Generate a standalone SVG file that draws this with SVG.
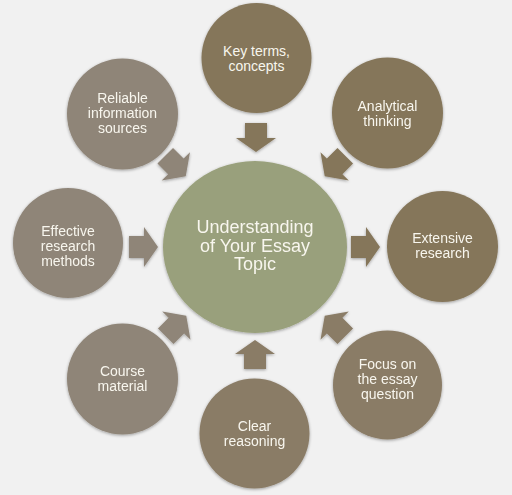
<svg xmlns="http://www.w3.org/2000/svg" width="512" height="495" viewBox="0 0 512 495">
  <defs>
    <style>
      .lbl { font-family: "Liberation Sans", Arial, sans-serif; font-size: 14px; fill: #f8f6ee; text-anchor: middle; }
      .main { font-family: "Liberation Sans", Arial, sans-serif; font-size: 18px; fill: #f8f6ee; text-anchor: middle; }
      .brown { fill: #85765a; }
      .gray { fill: #8f8578; }
      .mid { fill: #8a7c66; }
      .center { fill: #99a07b; }
    </style>
    <filter id="sh" x="-20%" y="-20%" width="140%" height="140%">
      <feDropShadow dx="0" dy="1" stdDeviation="1.6" flood-color="#000" flood-opacity="0.35"/>
    </filter>
    <polygon id="arr" points="-14.5,-11 0.5,-11 0.5,-20 14.5,0 0.5,20 0.5,11 -14.5,11"/>
  </defs>
  <rect width="512" height="495" fill="#f1f1f1"/>

  <g id="connectors" filter="url(#sh)">
    <use href="#arr" class="brown" transform="translate(256,137.5) rotate(90)"/>
    <use href="#arr" class="brown" transform="translate(335,166) rotate(135)"/>
    <use href="#arr" class="brown" transform="translate(365.5,247) rotate(0)"/>
    <use href="#arr" class="mid" transform="translate(335,326) rotate(-135)"/>
    <use href="#arr" class="mid" transform="translate(255,354.5) rotate(-90)"/>
    <use href="#arr" class="gray" transform="translate(176,326) rotate(-45)"/>
    <use href="#arr" class="gray" transform="translate(143.5,247) rotate(0)"/>
    <use href="#arr" class="gray" transform="translate(175.5,166) rotate(45)"/>
  </g>

  <g id="center-node">
    <ellipse cx="255" cy="247" rx="92" ry="86" class="center" filter="url(#sh)"/>
    <text class="main" x="255" y="233">Understanding</text>
    <text class="main" x="255" y="251.7">of Your Essay</text>
    <text class="main" x="255" y="270.4">Topic</text>
  </g>

  <g id="key-terms">
    <circle cx="256.5" cy="58" r="55" class="brown" filter="url(#sh)"/>
    <text class="lbl" x="256.5" y="56">Key terms,</text>
    <text class="lbl" x="256.5" y="71">concepts</text>
  </g>

  <g id="analytical">
    <circle cx="387.5" cy="113" r="55.5" class="brown" filter="url(#sh)"/>
    <text class="lbl" x="387.5" y="111">Analytical</text>
    <text class="lbl" x="387.5" y="126">thinking</text>
  </g>

  <g id="extensive">
    <circle cx="442.5" cy="246.5" r="55.5" class="brown" filter="url(#sh)"/>
    <text class="lbl" x="442.5" y="243">Extensive</text>
    <text class="lbl" x="442.5" y="258">research</text>
  </g>

  <g id="focus">
    <circle cx="387.5" cy="385" r="54.5" class="mid" filter="url(#sh)"/>
    <text class="lbl" x="387.5" y="369">Focus on</text>
    <text class="lbl" x="387.5" y="384">the essay</text>
    <text class="lbl" x="387.5" y="399">question</text>
  </g>

  <g id="clear">
    <circle cx="254.5" cy="433.5" r="55" class="mid" filter="url(#sh)"/>
    <text class="lbl" x="254.5" y="431">Clear</text>
    <text class="lbl" x="254.5" y="446">reasoning</text>
  </g>

  <g id="course">
    <circle cx="122.5" cy="379" r="55.5" class="gray" filter="url(#sh)"/>
    <text class="lbl" x="122.5" y="376">Course</text>
    <text class="lbl" x="122.5" y="391">material</text>
  </g>

  <g id="effective">
    <circle cx="68" cy="243" r="55" class="gray" filter="url(#sh)"/>
    <text class="lbl" x="68" y="236">Effective</text>
    <text class="lbl" x="68" y="251">research</text>
    <text class="lbl" x="68" y="266">methods</text>
  </g>

  <g id="reliable">
    <circle cx="122.5" cy="114" r="55.5" class="gray" filter="url(#sh)"/>
    <text class="lbl" x="122.5" y="103">Reliable</text>
    <text class="lbl" x="122.5" y="118">information</text>
    <text class="lbl" x="122.5" y="133">sources</text>
  </g>
</svg>
